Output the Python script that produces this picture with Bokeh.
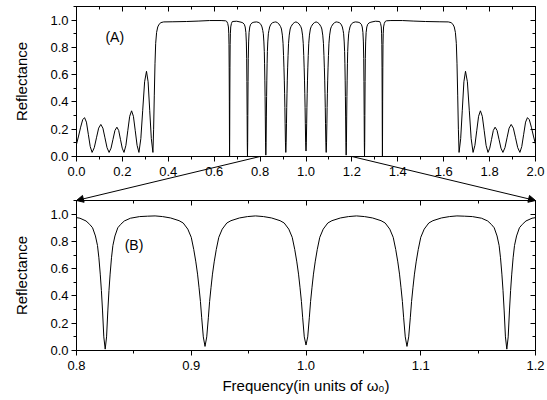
from bokeh.plotting import figure
from bokeh.models import (ColumnDataSource, LinearAxis, FixedTicker, Range1d, GridBox,
                          Arrow, NormalHead, Label, CustomJSTickFormatter, PrintfTickFormatter)
from bokeh.embed import file_html
from bokeh.resources import INLINE

# ---------------- data ----------------
freq = [
    # side lobes (left)
    0.0, 0.009, 0.018, 0.027, 0.035, 0.0433, 0.0515, 0.0598, 0.068,
    0.0775, 0.087, 0.0965, 0.106, 0.115, 0.124, 0.133, 0.142,
    0.1505, 0.159, 0.1675, 0.176, 0.1838, 0.1915, 0.1993, 0.207,
    0.2153, 0.2235, 0.2318, 0.24, 0.248, 0.256, 0.264, 0.272,
    0.2803, 0.2885, 0.2968, 0.305, 0.312, 0.319, 0.326, 0.333,
    # band edge and first stop band
    0.336, 0.339, 0.342, 0.345, 0.349, 0.354, 0.36, 0.368, 0.38,
    0.42, 0.48, 0.53, 0.58, 0.63, 0.65,
    # dip 0.667
    0.655, 0.659, 0.662, 0.6635, 0.6645, 0.6653, 0.666, 0.6665, 0.667,
    0.6675, 0.668, 0.6687, 0.6695, 0.6705, 0.672, 0.675, 0.679, 0.698,
    # dip 0.745
    0.717, 0.725, 0.731, 0.735, 0.738, 0.740, 0.7415, 0.7425, 0.7435, 0.7442, 0.745,
    0.7458, 0.7465, 0.7475, 0.7485, 0.750, 0.752, 0.755, 0.759, 0.765, 0.773, 0.785,
    # dip 0.825
    0.795, 0.803, 0.8083, 0.8115, 0.814, 0.8165, 0.8183, 0.8195, 0.8207, 0.8217, 0.8227, 0.8238, 0.825,
    0.8262, 0.8273, 0.8283, 0.8293, 0.8305, 0.8317, 0.8335, 0.836, 0.8385, 0.8417, 0.847, 0.855,
    0.862, 0.8685, 0.875,
    # dip 0.912
    0.882, 0.8894, 0.893, 0.897, 0.900, 0.9022, 0.904, 0.9055, 0.9068, 0.908, 0.9091, 0.9105, 0.912,
    0.9135, 0.9149, 0.916, 0.9172, 0.9185, 0.920, 0.9218, 0.924, 0.927, 0.931, 0.9346, 0.942,
    0.949, 0.956, 0.963,
    # dip 1.000
    0.97, 0.9774, 0.981, 0.985, 0.988, 0.9902, 0.992, 0.9935, 0.9948, 0.996, 0.9971, 0.9985, 1.0,
    1.0015, 1.0029, 1.004, 1.0052, 1.0065, 1.008, 1.0098, 1.012, 1.015, 1.019, 1.0226, 1.03,
    1.037, 1.044, 1.051,
    # dip 1.088
    1.058, 1.0654, 1.069, 1.073, 1.076, 1.0782, 1.080, 1.0815, 1.0828, 1.084, 1.0851, 1.0865, 1.088,
    1.0895, 1.0909, 1.092, 1.0932, 1.0945, 1.096, 1.0978, 1.100, 1.103, 1.107, 1.1106, 1.118,
    1.125, 1.1315, 1.138,
    # dip 1.175
    1.145, 1.153, 1.1583, 1.1615, 1.164, 1.1665, 1.1683, 1.1695, 1.1707, 1.1717, 1.1727, 1.1738, 1.175,
    1.1762, 1.1773, 1.1783, 1.1793, 1.1805, 1.1817, 1.1835, 1.186, 1.1885, 1.1917, 1.197, 1.205,
    1.215,
    # dip 1.255
    1.227, 1.235, 1.241, 1.245, 1.248, 1.250, 1.2515, 1.2525, 1.2535, 1.2542, 1.255,
    1.2558, 1.2565, 1.2575, 1.2585, 1.260, 1.262, 1.265, 1.269, 1.275, 1.283, 1.302,
    # dip 1.333
    1.321, 1.325, 1.328, 1.3295, 1.3305, 1.3313, 1.332, 1.3325, 1.333,
    1.3335, 1.334, 1.3347, 1.3355, 1.3365, 1.338, 1.341, 1.345,
    # second stop band and edge
    1.35, 1.37, 1.42, 1.47, 1.52, 1.58, 1.62,
    1.632, 1.64, 1.646, 1.651, 1.655, 1.658, 1.661, 1.664, 1.667,
    # side lobes (right)
    1.674, 1.681, 1.688, 1.695, 1.7032, 1.7115, 1.7197, 1.728,
    1.736, 1.744, 1.752, 1.76, 1.7682, 1.7765, 1.7847, 1.793,
    1.8007, 1.8085, 1.8162, 1.824, 1.8325, 1.841, 1.8495, 1.858,
    1.867, 1.876, 1.885, 1.894, 1.9035, 1.913, 1.9225, 1.932,
    1.9402, 1.9485, 1.9567, 1.965, 1.973, 1.982, 1.991, 2.0,
]

refl = [
    0.09, 0.15, 0.215, 0.27, 0.285, 0.252, 0.163, 0.073, 0.03,
    0.065, 0.137, 0.208, 0.235, 0.208, 0.137, 0.065, 0.03,
    0.061, 0.126, 0.191, 0.215, 0.191, 0.126, 0.061, 0.03,
    0.082, 0.189, 0.295, 0.335, 0.295, 0.189, 0.082, 0.03,
    0.131, 0.339, 0.548, 0.625, 0.548, 0.339, 0.131, 0.03,
    0.2, 0.45, 0.68, 0.83, 0.91, 0.95, 0.97, 0.982, 0.987,
    0.988, 0.99, 0.993, 0.997, 0.997, 0.995,
    0.99, 0.975, 0.95, 0.90, 0.82, 0.65, 0.40, 0.15, 0.0,
    0.15, 0.40, 0.65, 0.82, 0.90, 0.95, 0.975, 0.99, 0.992,
    0.985, 0.98, 0.97, 0.95, 0.91, 0.84, 0.72, 0.55, 0.30, 0.10, 0.0,
    0.10, 0.30, 0.55, 0.72, 0.84, 0.91, 0.95, 0.97, 0.98, 0.985, 0.987,
    0.982, 0.97, 0.95, 0.925, 0.90, 0.84, 0.77, 0.68, 0.56, 0.44, 0.29, 0.10, 0.01,
    0.10, 0.29, 0.44, 0.56, 0.68, 0.77, 0.84, 0.90, 0.925, 0.95, 0.97, 0.982,
    0.985, 0.987, 0.982,
    0.972, 0.952, 0.935, 0.89, 0.83, 0.74, 0.65, 0.56, 0.46, 0.36, 0.24, 0.10, 0.03,
    0.10, 0.24, 0.36, 0.46, 0.56, 0.65, 0.74, 0.83, 0.89, 0.935, 0.952, 0.972,
    0.982, 0.987, 0.982,
    0.972, 0.952, 0.935, 0.89, 0.83, 0.74, 0.65, 0.56, 0.46, 0.36, 0.24, 0.10, 0.04,
    0.10, 0.24, 0.36, 0.46, 0.56, 0.65, 0.74, 0.83, 0.89, 0.935, 0.952, 0.972,
    0.982, 0.987, 0.982,
    0.972, 0.952, 0.935, 0.89, 0.83, 0.74, 0.65, 0.56, 0.46, 0.36, 0.24, 0.10, 0.03,
    0.10, 0.24, 0.36, 0.46, 0.56, 0.65, 0.74, 0.83, 0.89, 0.935, 0.952, 0.972,
    0.982, 0.987, 0.985,
    0.982, 0.97, 0.95, 0.925, 0.90, 0.84, 0.77, 0.68, 0.56, 0.44, 0.29, 0.10, 0.01,
    0.10, 0.29, 0.44, 0.56, 0.68, 0.77, 0.84, 0.90, 0.925, 0.95, 0.97, 0.982,
    0.987,
    0.985, 0.98, 0.97, 0.95, 0.91, 0.84, 0.72, 0.55, 0.30, 0.10, 0.0,
    0.10, 0.30, 0.55, 0.72, 0.84, 0.91, 0.95, 0.97, 0.98, 0.985, 0.992,
    0.99, 0.975, 0.95, 0.90, 0.82, 0.65, 0.40, 0.15, 0.0,
    0.15, 0.40, 0.65, 0.82, 0.90, 0.95, 0.975, 0.99,
    0.995, 0.997, 0.997, 0.993, 0.99, 0.988, 0.987,
    0.982, 0.97, 0.95, 0.91, 0.83, 0.68, 0.45, 0.2, 0.03,
    0.131, 0.339, 0.548, 0.625, 0.548, 0.339, 0.131, 0.03,
    0.082, 0.189, 0.295, 0.335, 0.295, 0.189, 0.082, 0.03,
    0.061, 0.126, 0.191, 0.215, 0.191, 0.126, 0.061, 0.03,
    0.065, 0.137, 0.208, 0.235, 0.208, 0.137, 0.065, 0.03,
    0.073, 0.163, 0.252, 0.285, 0.27, 0.215, 0.15, 0.09,
]

full_range = (0.0, 2.0)
zoom_range = (0.8, 1.2)
y_range_max = 1.1
full_ticks = [0.0, 0.2, 0.4, 0.6, 0.8, 1.0, 1.2, 1.4, 1.6, 1.8, 2.0]
full_minor = [0.1, 0.3, 0.5, 0.7, 0.9, 1.1, 1.3, 1.5, 1.7, 1.9]
zoom_ticks = [0.8, 0.9, 1.0, 1.1, 1.2]
zoom_minor = [0.85, 0.95, 1.05, 1.15]
y_ticks = [0.0, 0.2, 0.4, 0.6, 0.8, 1.0]
y_minor = [0.1, 0.3, 0.5, 0.7, 0.9, 1.1]
panel_labels = ["(A)", "(B)"]
y_label = "Reflectance"
x_label = "Frequency(in units of \u03c9\u2080)"

FONT = "Liberation Sans"
src = ColumnDataSource(dict(f=freq, r=refl))

# ---------------- layout (pixels) ----------------
W = 547
LEFT, FW, RIGHT = 76, 459, 12
TOP1, FH1, BOT1 = 6, 150, 44
TOP2, FH2, BOT2 = 0, 150, 49
H1 = TOP1 + FH1 + BOT1
H2 = TOP2 + FH2 + BOT2


def style_axis(ax, ticks, minor, inward, labels=True, standoff=4):
    ax.ticker = FixedTicker(ticks=ticks, minor_ticks=minor)
    ax.axis_line_color = "black"
    ax.axis_line_width = 1
    ax.major_tick_line_color = "black"
    ax.minor_tick_line_color = "black"
    if inward:
        ax.major_tick_in, ax.major_tick_out = 5, 0
        ax.minor_tick_in, ax.minor_tick_out = 3, 0
    else:
        ax.major_tick_in, ax.major_tick_out = 0, 5
        ax.minor_tick_in, ax.minor_tick_out = 0, 3
    if labels:
        ax.formatter = PrintfTickFormatter(format="%.1f")
        ax.major_label_text_font = FONT
        ax.major_label_text_font_size = "13px"
        ax.major_label_text_color = "black"
        ax.major_label_standoff = standoff
    else:
        ax.formatter = CustomJSTickFormatter(code="return ''")
        ax.major_label_text_font_size = "0px"
        ax.major_label_standoff = 0


def style_label(ax, text, standoff):
    ax.axis_label = text
    ax.axis_label_text_font = FONT
    ax.axis_label_text_font_size = "15px"
    ax.axis_label_text_font_style = "normal"
    ax.axis_label_text_color = "black"
    ax.axis_label_standoff = standoff


def make_fig(xr, fh, top, bottom):
    p = figure(frame_width=FW, frame_height=fh, x_range=Range1d(*xr), y_range=Range1d(0, y_range_max),
               output_backend="svg", toolbar_location=None,
               min_border_left=LEFT, min_border_right=RIGHT, min_border_top=top, min_border_bottom=bottom)
    p.grid.visible = False
    p.outline_line_color = "black"
    p.background_fill_color = "white"
    p.border_fill_color = "white"
    p.line("f", "r", source=src, line_color="black", line_width=1)
    return p


def add_mirror_axes(p, xt, xm):
    ta = LinearAxis()
    style_axis(ta, xt, xm, inward=True, labels=False)
    p.add_layout(ta, "above")
    ra = LinearAxis()
    style_axis(ra, y_ticks, y_minor, inward=True, labels=False)
    p.add_layout(ra, "right")


# ---------- top panel ----------
p1 = make_fig(full_range, FH1, TOP1, BOT1)
style_axis(p1.xaxis[0], full_ticks, full_minor, inward=False, standoff=5)
style_axis(p1.yaxis[0], y_ticks, y_minor, inward=False, standoff=3)
style_label(p1.yaxis[0], y_label, 17)
add_mirror_axes(p1, full_ticks, full_minor)
p1.add_layout(Label(x=0.126, y=0.88, text=panel_labels[0], text_font=FONT, text_font_size="14px",
                    text_color="black", text_baseline="middle"))

# ---------- bottom panel ----------
p2 = make_fig(zoom_range, FH2, TOP2, BOT2)
style_axis(p2.xaxis[0], zoom_ticks, zoom_minor, inward=False, standoff=5)
style_label(p2.xaxis[0], x_label, 4)
style_axis(p2.yaxis[0], y_ticks, y_minor, inward=False, standoff=3)
style_label(p2.yaxis[0], y_label, 17)
add_mirror_axes(p2, zoom_ticks, zoom_minor)
p2.add_layout(Label(x=0.842, y=0.775, text=panel_labels[1], text_font=FONT, text_font_size="14px",
                    text_color="black", text_baseline="middle"))

# ---------- transparent overlay carrying the zoom arrows ----------
# The grid aligns this overlay's frame with the two panels' frames: it spans the
# top panel's x scale horizontally, and from the top of panel A to the bottom
# of panel B vertically (y measured in pixels from the top of the page).
ov = figure(width=W, height=H1 + H2,
            x_range=Range1d(*full_range),
            y_range=Range1d(H1 + TOP2 + FH2, TOP1),
            x_axis_type=None, y_axis_type=None, output_backend="svg", toolbar_location=None,
            min_border=0)
ov.outline_line_color = None
ov.background_fill_color = None
ov.border_fill_color = None
axis_y = TOP1 + FH1
for xs, xe in [(zoom_range[0], full_range[0]), (zoom_range[1], full_range[1])]:
    ov.add_layout(Arrow(end=NormalHead(size=7, fill_color="black", line_color="black", line_width=1),
                        x_start=xs, y_start=axis_y, x_end=xe, y_end=H1 + TOP2,
                        line_color="black", line_width=1))

layout = GridBox(children=[(p1, 0, 0), (p2, 1, 0), (ov, 0, 0, 2, 1)], spacing=0)
open("out.html", "w").write(file_html(layout, INLINE))
